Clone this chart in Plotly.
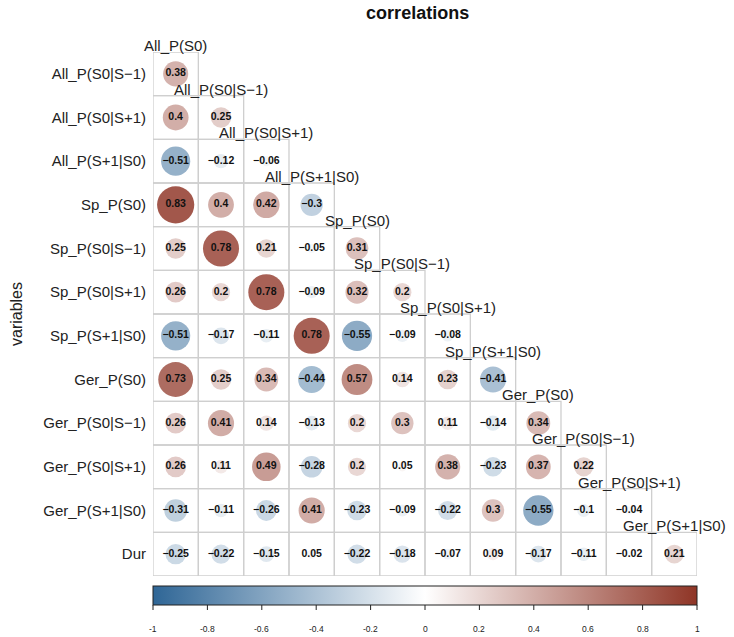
import plotly.graph_objects as go
import numpy as np

row_labels = ["All_P(S0|S−1)", "All_P(S0|S+1)", "All_P(S+1|S0)", "Sp_P(S0)",
              "Sp_P(S0|S−1)", "Sp_P(S0|S+1)", "Sp_P(S+1|S0)", "Ger_P(S0)",
              "Ger_P(S0|S−1)", "Ger_P(S0|S+1)", "Ger_P(S+1|S0)", "Dur"]
col_labels = ["All_P(S0)", "All_P(S0|S−1)", "All_P(S0|S+1)", "All_P(S+1|S0)",
              "Sp_P(S0)", "Sp_P(S0|S−1)", "Sp_P(S0|S+1)", "Sp_P(S+1|S0)",
              "Ger_P(S0)", "Ger_P(S0|S−1)", "Ger_P(S0|S+1)", "Ger_P(S+1|S0)"]

r_all_s0_sm1 = [0.38]
r_all_s0_sp1 = [0.4, 0.25]
r_all_sp1_s0 = [-0.51, -0.12, -0.06]
r_sp_s0 = [0.83, 0.4, 0.42, -0.3]
r_sp_s0_sm1 = [0.25, 0.78, 0.21, -0.05, 0.31]
r_sp_s0_sp1 = [0.26, 0.2, 0.78, -0.09, 0.32, 0.2]
r_sp_sp1_s0 = [-0.51, -0.17, -0.11, 0.78, -0.55, -0.09, -0.08]
r_ger_s0 = [0.73, 0.25, 0.34, -0.44, 0.57, 0.14, 0.23, -0.41]
r_ger_s0_sm1 = [0.26, 0.41, 0.14, -0.13, 0.2, 0.3, 0.11, -0.14, 0.34]
r_ger_s0_sp1 = [0.26, 0.11, 0.49, -0.28, 0.2, 0.05, 0.38, -0.23, 0.37, 0.22]
r_ger_sp1_s0 = [-0.31, -0.11, -0.26, 0.41, -0.23, -0.09, -0.22, 0.3, -0.55, -0.1, -0.04]
r_dur = [-0.25, -0.22, -0.15, 0.05, -0.22, -0.18, -0.07, 0.09, -0.17, -0.11, -0.02, 0.21]

rows = [r_all_s0_sm1, r_all_s0_sp1, r_all_sp1_s0, r_sp_s0, r_sp_s0_sm1, r_sp_s0_sp1,
        r_sp_sp1_s0, r_ger_s0, r_ger_s0_sm1, r_ger_s0_sp1, r_ger_sp1_s0, r_dur]

cbar_ticks = [-1, -0.8, -0.6, -0.4, -0.2, 0, 0.2, 0.4, 0.6, 0.8, 1]

colorscale = [[0.0, "#2F6696"], [0.5, "#FFFFFF"], [1.0, "#8F3526"]]

FONT = "Liberation Sans, Arial"
W, H = 734, 637
ML, MR, MT, MB = 153, 37, 52, 61
plot_w = W - ML - MR
plot_h = H - MT - MB
n = len(row_labels)
cell = plot_w / n

xs, ys, vals, sizes, texts = [], [], [], [], []
for i, row in enumerate(rows):
    for j, v in enumerate(row):
        xs.append(j)
        ys.append(i)
        vals.append(v)
        sizes.append(max(0.9 * np.sqrt(abs(v)) * cell, 0.1))
        texts.append(f"{v:g}".replace("-", "−"))

fig = go.Figure()

shapes = []
for i, row in enumerate(rows):
    for j in range(len(row)):
        shapes.append(dict(type="rect", xref="x", yref="y",
                           x0=j - 0.5, x1=j + 0.5, y0=i - 0.5, y1=i + 0.5,
                           line=dict(color="#CFCFCF", width=1.3), layer="below"))

bar_gap, bar_th = 10, 19
for t in cbar_ticks:
    shapes.append(dict(type="line", xref="paper", yref="paper",
                       x0=(t + 1) / 2, x1=(t + 1) / 2,
                       y0=-(bar_gap + bar_th) / plot_h, y1=-(bar_gap + bar_th + 5) / plot_h,
                       line=dict(color="#222222", width=1)))

fig.add_trace(go.Scatter(
    x=xs, y=ys, mode="markers+text",
    marker=dict(size=sizes, color=vals, colorscale=colorscale, cmin=-1, cmax=1,
                line=dict(width=0), opacity=1,
                colorbar=dict(orientation="h", x=0.5, xanchor="center",
                              y=-(bar_gap / plot_h), yanchor="top",
                              lenmode="pixels", len=plot_w, thickness=bar_th,
                              xpad=0, ypad=0,
                              outlinecolor="#222222", outlinewidth=1,
                              ticks="", tickvals=cbar_ticks, showticklabels=False)),
    text=texts, textposition="middle center",
    textfont=dict(family=FONT, size=10.5, color="#111111", weight="bold"),
    hoverinfo="skip", showlegend=False))

annotations = []
for j, lab in enumerate(col_labels):
    annotations.append(dict(x=j, y=j - 0.5, xref="x", yref="y", text=lab,
                            showarrow=False, xanchor="center", yanchor="bottom",
                            yshift=-4,
                            font=dict(family=FONT, size=15, color="#222222")))
for t in cbar_ticks:
    annotations.append(dict(x=(t + 1) / 2, y=0, xref="paper", yref="paper",
                            text=f"{t:g}", showarrow=False, xanchor="center",
                            yanchor="middle", yshift=-53,
                            font=dict(family=FONT, size=8.5, color="#222222")))

fig.update_layout(
    width=W, height=H,
    margin=dict(l=ML, r=MR, t=MT, b=MB, autoexpand=False),
    paper_bgcolor="white", plot_bgcolor="white",
    title=dict(text="<b>correlations</b>", xref="container", x=0.569, xanchor="center",
               y=1 - 13 / H, yanchor="middle",
               font=dict(family=FONT, size=18, color="#111111")),
    shapes=shapes, annotations=annotations,
    xaxis=dict(range=[-0.5, n - 0.5], showgrid=False, zeroline=False,
               showticklabels=False, showline=False, fixedrange=True),
    yaxis=dict(range=[n - 0.5, -0.5], showgrid=False, zeroline=False,
               tickvals=list(range(n)), ticktext=row_labels, ticks="",
               ticklabelstandoff=6, showline=False,
               tickfont=dict(family=FONT, size=15, color="#222222"),
               title=dict(text="variables", standoff=16,
                          font=dict(family=FONT, size=16, color="#222222"))),
)

fig.write_html("out.html")
